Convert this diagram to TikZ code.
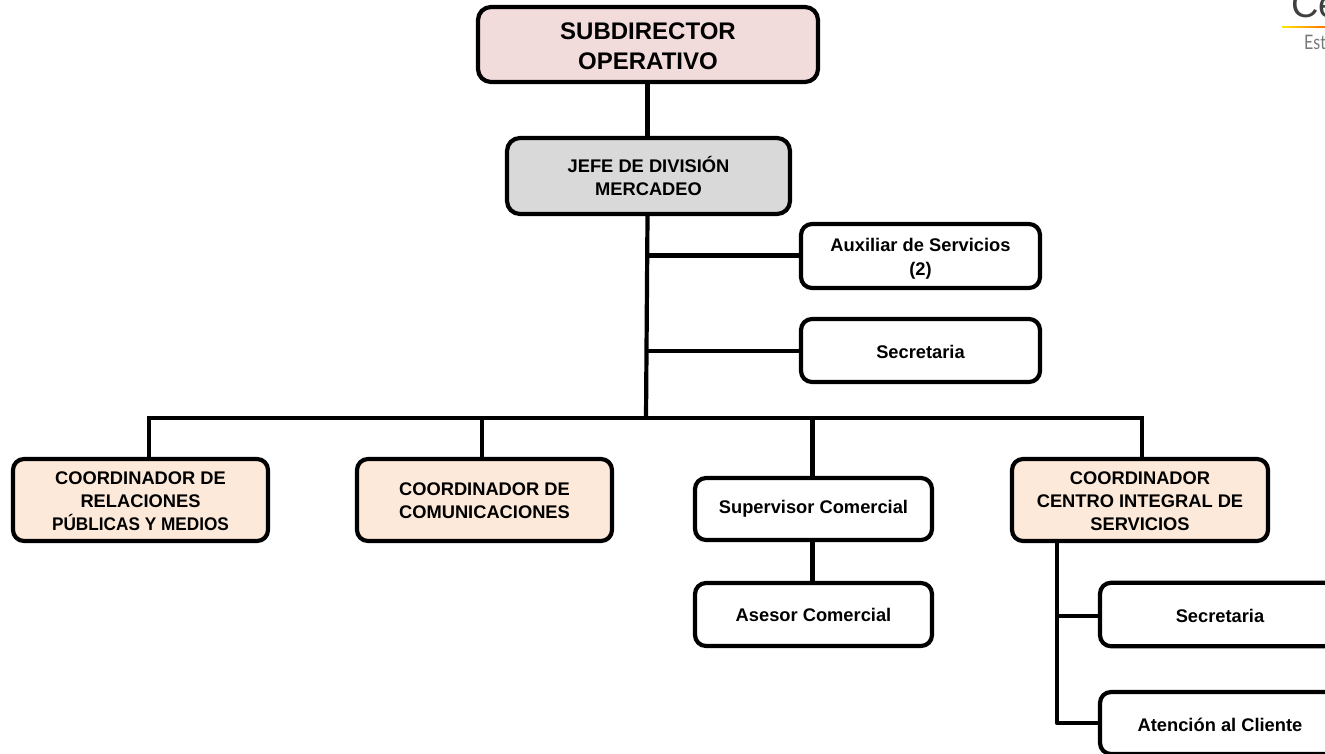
\documentclass[tikz,border=0pt]{standalone}
\usepackage{fontspec}
\setmainfont{Liberation Sans}
\newfontfamily\logofont{Lato}
\definecolor{subfill}{HTML}{F2DCDB}
\definecolor{jefefill}{HTML}{D9D9D9}
\definecolor{coordfill}{HTML}{FDE9D9}
\definecolor{logogray}{HTML}{404040}
\tikzset{
  orgbox/.style={draw=black,line width=4.2pt,rounded corners=11pt,fill=white,align=center,
    font=\fontsize{18.3}{22.7}\selectfont\bfseries,inner sep=0pt,text=black},
  conn/.style={draw=black,line width=4.2pt}
}
\newcommand{\orgnode}[7][]{%
  \node[orgbox,#1,minimum width=#4 pt - #2 pt,minimum height=#5 pt - #3 pt] (#6) at ({(#2+#4)/2},{-(#3+#5)/2}) {#7};}
\newcommand{\lowered}[2]{\raisebox{-#1pt}[\height][\depth]{#2}}
\begin{document}
\begin{tikzpicture}[x=1pt,y=1pt]
\path[use as bounding box] (0,0) rectangle (1325,-754);
\clip (0,0) rectangle (1325,-754);
\fill[white] (0,0) rectangle (1325,-754);
% logo
\node[anchor=base west,inner sep=0pt,text=logogray,font=\fontsize{38}{38}\selectfont] (logoC) at (1291,-18) {Ce};
\shade[left color=yellow!80!orange,right color=orange!90!red] (1282,-26.2) rectangle (1325,-27.8);
\node[anchor=base west,inner sep=0pt,text=logogray!70,font=\logofont\fontsize{20}{20}\selectfont] (logoE) at (1304,-50) {\scalebox{.8}[1]{Este}};
% connector coordinates
\coordinate (trunkEnd) at (646,-418);
\coordinate (busL) at (149,-418);
\coordinate (busA) at (482,-418);
\coordinate (busB) at (812.5,-418);
\coordinate (busR) at (1142,-418);
\coordinate (jAux) at (647.5,-255.5);
\coordinate (jSec) at (646.8,-351);
\coordinate (cisTop) at (1057,-541);
\coordinate (jSec2) at (1057,-616);
\coordinate (jAte) at (1057,-723);
% boxes
\orgnode[fill=subfill,font=\fontsize{24}{29.5}\selectfont\bfseries,rounded corners=13pt]{478}{7}{818}{82}{sub}{\lowered{1.5}{SUBDIRECTOR}\\\lowered{1.5}{OPERATIVO}}
\orgnode[fill=jefefill,rounded corners=13pt]{507}{138}{790}{214}{jefe}{JEFE DE DIVISIÓN\\MERCADEO}
\orgnode{801}{224}{1040}{288}{aux}{\lowered{2.5}{Auxiliar de Servicios}\\\lowered{3}{(2)}}
\orgnode{801}{319}{1040}{382}{sec}{\lowered{1}{Secretaria}}
\orgnode[fill=coordfill]{13}{459}{268}{541}{cone}{\lowered{1}{COORDINADOR DE}\\\lowered{1}{RELACIONES}\\\lowered{1}{\scalebox{.94}[1]{PÚBLICAS Y MEDIOS}}}
\orgnode[fill=coordfill]{357}{459}{612}{541}{ctwo}{\lowered{1}{COORDINADOR DE}\\\lowered{1}{COMUNICACIONES}}
\orgnode{695}{478}{932}{540}{sup}{Supervisor Comercial}
\orgnode{695}{583}{932}{646}{ase}{Asesor Comercial}
\orgnode[fill=coordfill]{1012}{459}{1268}{541}{cis}{\lowered{1}{COORDINADOR}\\\lowered{1}{CENTRO INTEGRAL DE}\\\lowered{1}{SERVICIOS}}
\node[orgbox,minimum width=240pt,minimum height=63.5pt] (secb) at (1220,-614.5) {\lowered{1}{Secretaria}};
\node[orgbox,minimum width=240pt,minimum height=62pt] (ate) at (1220,-723) {\lowered{2}{Atención al Cliente}};
% connectors
\draw[conn] (sub.south -| jAux) -- (jefe.north -| jAux);
\draw[conn] (jefe.south -| jAux) -- (trunkEnd);
\draw[conn] (jAux) -- (jAux -| aux.west);
\draw[conn] (jSec) -- (jSec -| sec.west);
\draw[conn,line cap=rect] (busL) -- (busR);
\draw[conn] (busL) -- (busL |- cone.north);
\draw[conn] (busA) -- (busA |- ctwo.north);
\draw[conn] (busB) -- (busB |- sup.north);
\draw[conn] (busR) -- (busR |- cis.north);
\draw[conn] (sup.south -| busB) -- (ase.north -| busB);
\draw[conn,line join=round] (cisTop) -- (jAte) -- (ate.west);
\draw[conn] (jSec2) -- (jSec2 -| secb.west);
\end{tikzpicture}
\end{document}
